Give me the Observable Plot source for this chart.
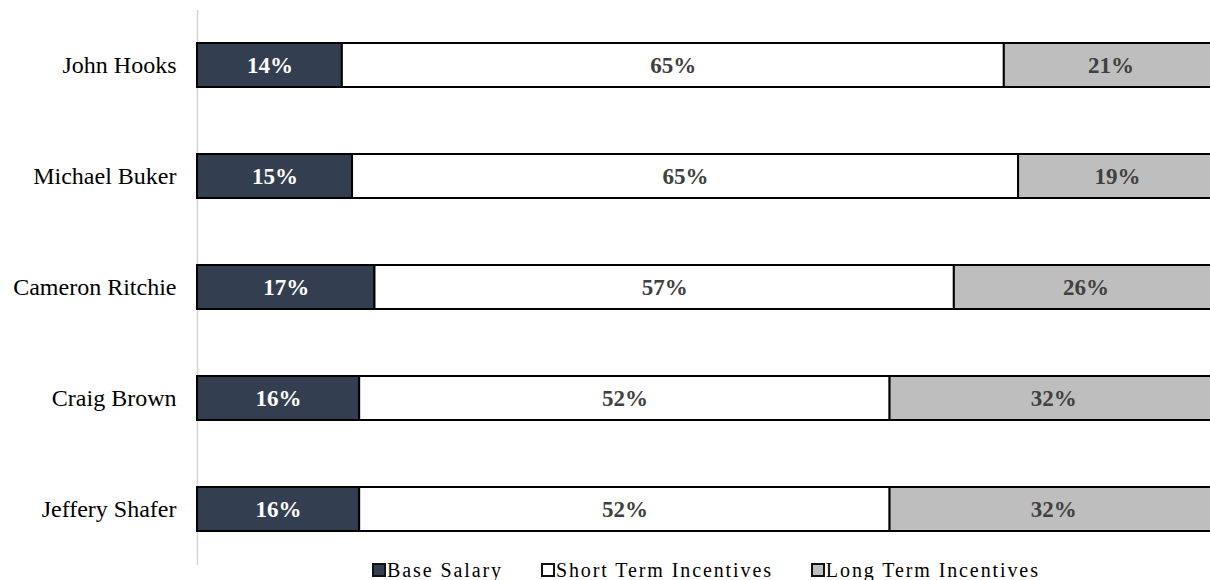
<!DOCTYPE html>
<html>
<head>
<meta charset="utf-8">
<script src="https://cdn.jsdelivr.net/npm/d3@7"></script>
<script src="https://cdn.jsdelivr.net/npm/@observablehq/plot@0.6"></script>
<style>
  html, body { margin: 0; padding: 0; background: #fff; overflow: hidden; }
  #wrap { position: relative; width: 1210px; height: 580px; }
  #legend { position: absolute; left: 372px; top: 560px; display: flex; align-items: center;
            font-family: "Liberation Serif", "Times New Roman", serif; font-size: 20px; color: #000;
            line-height: 20px; letter-spacing: 1.9px; white-space: nowrap; }
  #legend .item { display: flex; align-items: center; margin-right: 38px; }
  #legend .sw { width: 10px; height: 10px; border: 2px solid #111; margin-right: 1px; box-sizing: content-box; }
</style>
</head>
<body>
<div id="wrap"></div>
<script>
const names = ["John Hooks", "Michael Buker", "Cameron Ritchie", "Craig Brown", "Jeffery Shafer"];
const categories = ["Base Salary", "Short Term Incentives", "Long Term Incentives"];
// segment lengths (percent of total)
const baseSalary = [14.2, 15.2, 17.4, 15.9, 15.9];
const shortTerm = [64.9, 65.3, 56.8, 52.0, 52.0];
const longTerm = [20.9, 19.4, 25.8, 32.1, 32.1];
const fills = ["#333f50", "#ffffff", "#bebebe"];
const labelColors = ["#ffffff", "#404040", "#404040"];

const series = [baseSalary, shortTerm, longTerm];
const data = [];
names.forEach((n, i) => {
  categories.forEach((c, j) => {
    data.push({name: n, category: c, value: series[j][i]});
  });
});

const plot = Plot.plot({
  width: 1210,
  height: 565,
  marginLeft: 197,
  marginRight: 0,
  marginTop: 10,
  marginBottom: 0,
  style: {fontFamily: "Liberation Serif, Times New Roman, serif", background: "#fff", overflow: "hidden"},
  x: {domain: [0, 100], range: [197, 1217], axis: null},
  y: {domain: names, paddingInner: 0.6, paddingOuter: 0.3, label: null},
  color: {domain: categories, range: fills},
  marks: [
    Plot.ruleX([0], {stroke: "#d4d4d4", strokeWidth: 1.5}),
    Plot.barX(data, {x: "value", y: "name", fill: "category", stroke: "#000", strokeWidth: 2}),
    Plot.text(data, Plot.stackX({
      x: "value", y: "name", z: "category",
      text: d => Math.round(d.value) + "%",
      fill: d => labelColors[categories.indexOf(d.category)],
      fontSize: 23, fontWeight: "bold"
    })),
    Plot.axisY({tickSize: 0, tickPadding: 21, fontSize: 24, fill: "#000", label: null})
  ]
});
const wrap = document.getElementById("wrap");
wrap.appendChild(plot);

const legend = document.createElement("div");
legend.id = "legend";
categories.forEach((c, j) => {
  const item = document.createElement("div");
  item.className = "item";
  const sw = document.createElement("span");
  sw.className = "sw";
  sw.style.background = fills[j];
  const lab = document.createElement("span");
  lab.textContent = c;
  item.appendChild(sw);
  item.appendChild(lab);
  legend.appendChild(item);
});
wrap.appendChild(legend);
</script>
</body>
</html>
